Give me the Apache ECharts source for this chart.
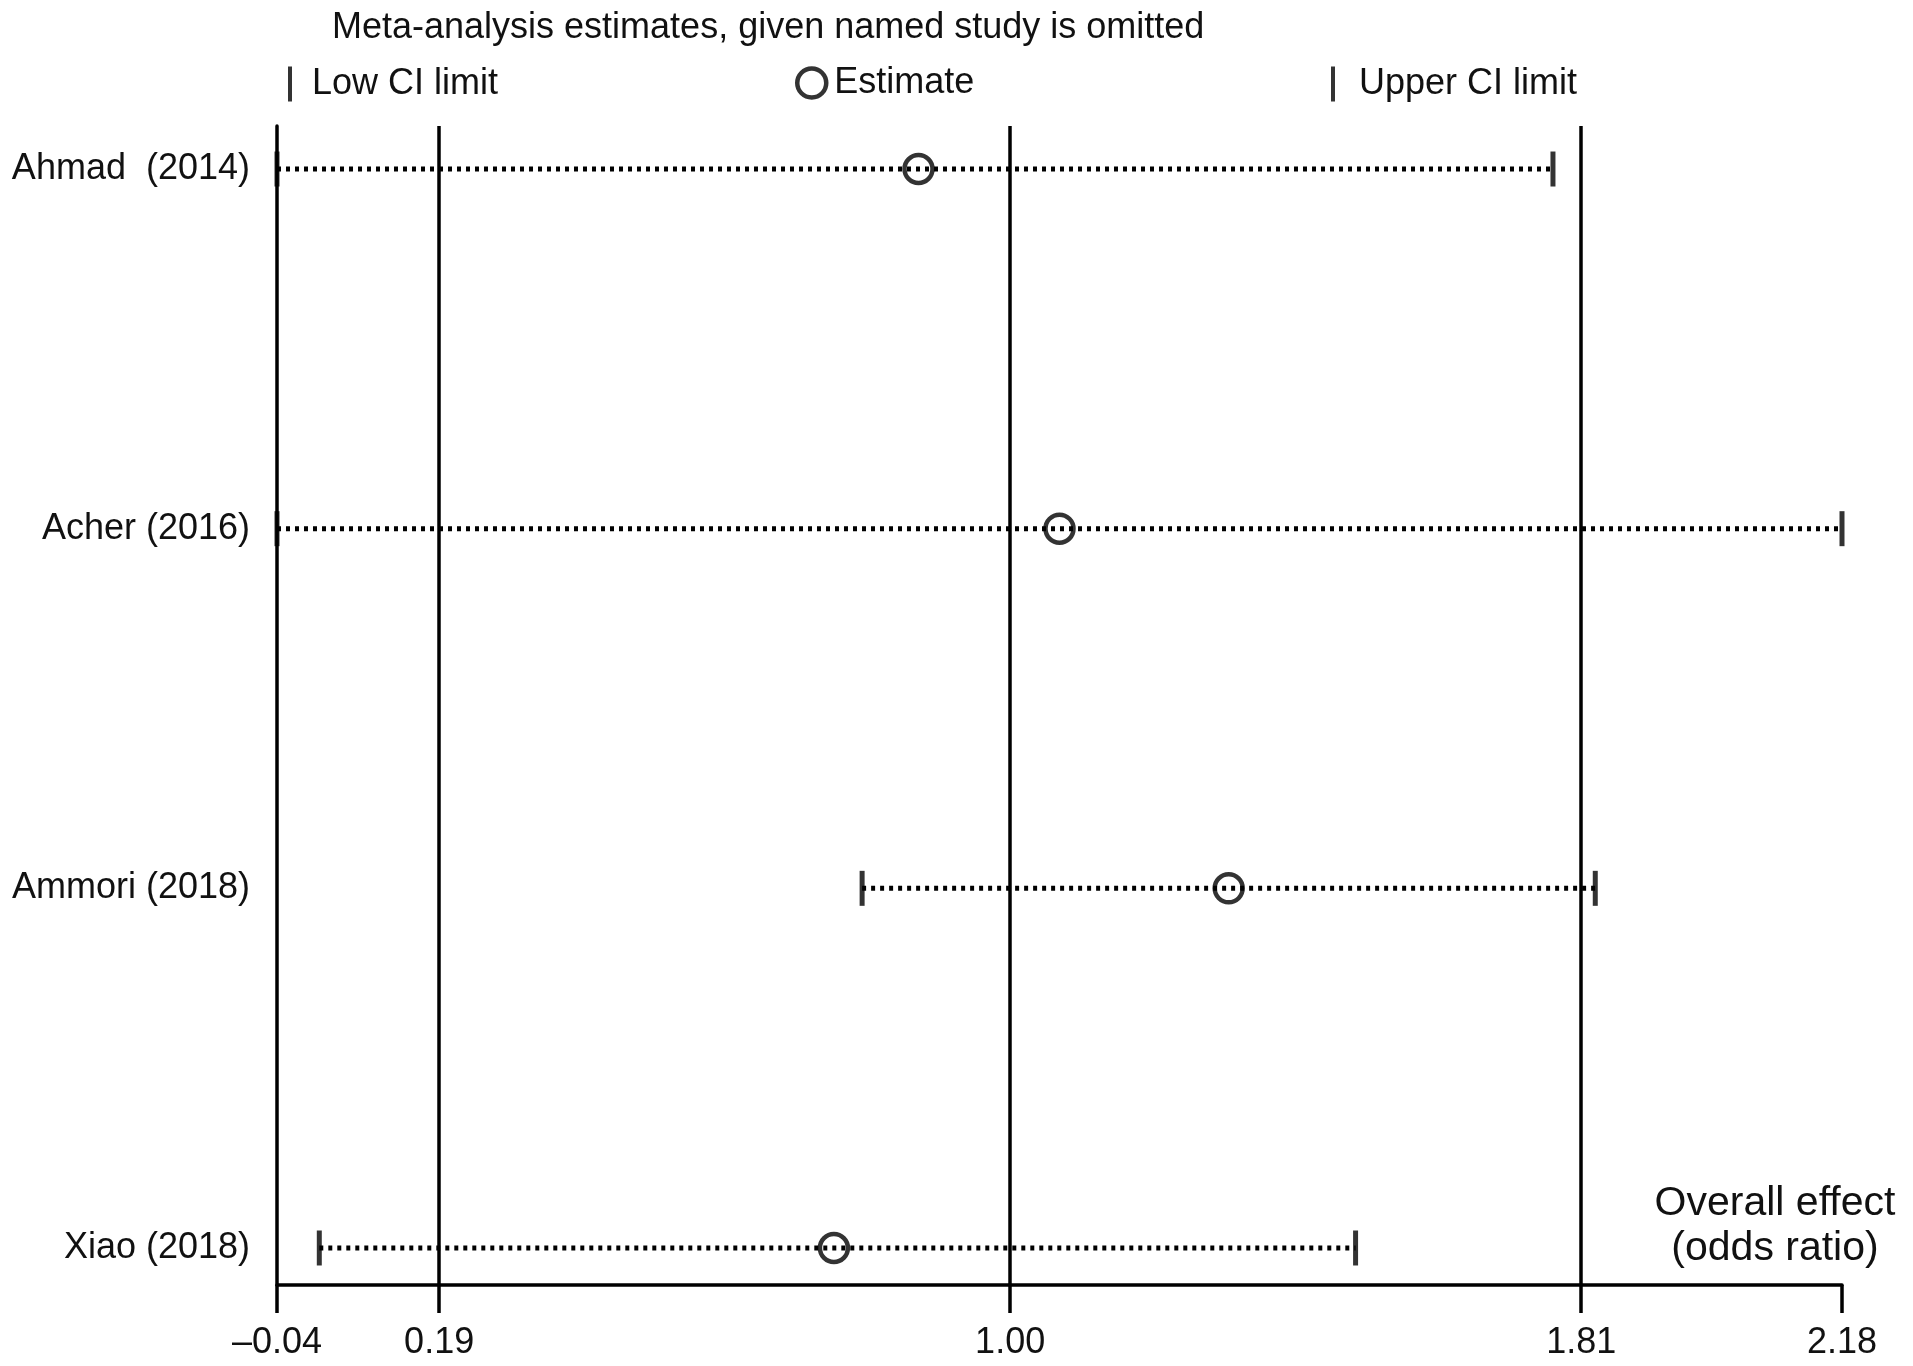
<!DOCTYPE html>
<html>
<head>
<meta charset="utf-8">
<script src="https://cdn.jsdelivr.net/npm/echarts@6/dist/echarts.min.js"></script>
<style>
html,body{margin:0;padding:0;background:#fff;}
#chart{width:1913px;height:1366px;}
</style>
</head>
<body>
<div id="chart"></div>
<script>
// ---- data ----
var studies = ['Ahmad  (2014)', 'Acher (2016)', 'Ammori (2018)', 'Xiao (2018)'];
var lowCI = [-0.04, -0.04, 0.79, 0.02];
var estimate = [0.87, 1.07, 1.31, 0.75];
var upperCI = [1.77, 2.18, 1.83, 1.49];
var overallLines = [0.19, 1.00, 1.81];
var xTicks = [-0.04, 0.19, 1.00, 1.81, 2.18];

var FONT = 'Liberation Sans, Arial, Helvetica, sans-serif';
var INK = '#000';
var TXT = '#111';

function rowOf(i) { return studies.length - 1 - i; }

var series = [];
// dotted CI lines
studies.forEach(function (s, i) {
  series.push({
    type: 'line',
    name: 'ci_' + i,
    data: [[lowCI[i], rowOf(i)], [upperCI[i], rowOf(i)]],
    showSymbol: false,
    symbol: 'none',
    silent: true,
    lineStyle: { color: INK, width: 5, type: [4, 5] },
    z: 2
  });
});
// overall effect vertical lines
series.push({
  type: 'line',
  name: 'overall',
  data: [],
  silent: true,
  markLine: {
    silent: true,
    symbol: ['none', 'none'],
    label: { show: false },
    lineStyle: { color: INK, width: 3.5, type: 'solid' },
    data: overallLines.map(function (v) { return { xAxis: v }; })
  },
  z: 3
});
series.push({
  type: 'scatter',
  name: 'Low CI limit',
  symbol: 'rect',
  symbolSize: [5, 35],
  itemStyle: { color: INK },
  data: lowCI.map(function (v, i) { return [v, rowOf(i)]; }),
  z: 4
});
series.push({
  type: 'scatter',
  name: 'Upper CI limit',
  symbol: 'rect',
  symbolSize: [5, 35],
  itemStyle: { color: INK },
  data: upperCI.map(function (v, i) { return [v, rowOf(i)]; }),
  z: 4
});
series.push({
  type: 'scatter',
  name: 'Estimate',
  symbol: 'circle',
  symbolSize: 28,
  itemStyle: { color: 'rgba(255,255,255,0)', borderColor: INK, borderWidth: 4.5 },
  data: estimate.map(function (v, i) { return [v, rowOf(i)]; }),
  z: 5
});

function fmtTick(v) {
  var s = Math.abs(v).toFixed(2);
  return v < 0 ? '\u2013' + s : s;
}

var legendText = { fontFamily: FONT, fontSize: 36, color: TXT };

var option = {
  backgroundColor: '#fff',
  animation: false,
  title: {
    text: 'Meta-analysis estimates, given named study is omitted',
    left: 327,
    top: 5,
    textStyle: { fontFamily: FONT, fontSize: 36, fontWeight: 'normal', color: TXT }
  },
  legend: [
    {
      data: ['Low CI limit'],
      left: 283, top: 61,
      icon: 'rect', itemWidth: 4, itemHeight: 35,
      itemStyle: { color: INK },
      textStyle: Object.assign({ padding: [0, 0, 0, 15] }, legendText),
      selectedMode: false
    },
    {
      data: ['Estimate'],
      left: 790, top: 60,
      icon: 'circle', itemWidth: 29, itemHeight: 29,
      itemStyle: { color: 'rgba(255,255,255,0)', borderColor: INK, borderWidth: 4.5 },
      textStyle: Object.assign({ padding: [0, 0, 0, 3] }, legendText),
      selectedMode: false
    },
    {
      data: ['Upper CI limit'],
      left: 1326, top: 61,
      icon: 'rect', itemWidth: 4, itemHeight: 35,
      itemStyle: { color: INK },
      textStyle: Object.assign({ padding: [0, 0, 0, 19] }, legendText),
      selectedMode: false
    }
  ],
  grid: { left: 277, right: 71, top: 126, bottom: 81, containLabel: false },
  xAxis: {
    type: 'value',
    min: -0.04,
    max: 2.18,
    axisLine: { show: true, onZero: false, lineStyle: { color: INK, width: 3.5 } },
    axisTick: { show: true, customValues: xTicks, length: 28, lineStyle: { color: INK, width: 3.5 } },
    axisLabel: {
      customValues: xTicks,
      formatter: fmtTick,
      margin: 40,
      fontFamily: FONT, fontSize: 36, color: TXT
    },
    splitLine: { show: false }
  },
  yAxis: {
    type: 'value',
    min: -0.1029,
    max: 3.1196,
    axisLine: { show: true, onZero: false, lineStyle: { color: INK, width: 3.5 } },
    axisTick: { show: false },
    axisLabel: {
      customValues: [0, 1, 2, 3],
      formatter: function (v) { return studies[studies.length - 1 - Math.round(v)]; },
      margin: 27,
      padding: [14, 0, 0, 0],
      fontFamily: FONT, fontSize: 36, color: TXT
    },
    splitLine: { show: false }
  },
  graphic: [
    {
      type: 'text',
      x: 1775,
      y: 1226,
      style: {
        text: 'Overall effect\n(odds ratio)',
        fontFamily: FONT,
        fontSize: 41,
        lineHeight: 45,
        fill: TXT,
        align: 'center',
        verticalAlign: 'middle'
      }
    }
  ],
  series: series
};

var chart = echarts.init(document.getElementById('chart'), null, { renderer: 'canvas' });
chart.setOption(option);
</script>
</body>
</html>
